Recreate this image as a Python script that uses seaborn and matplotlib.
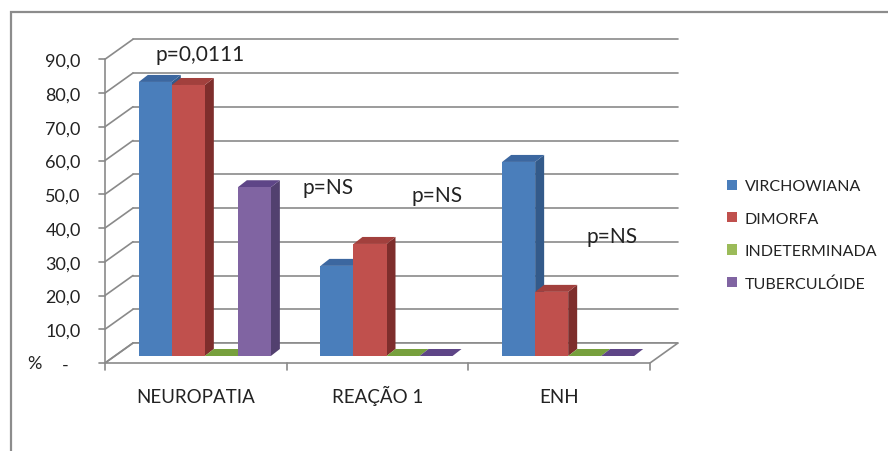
import numpy as np
import pandas as pd
import seaborn as sns
import matplotlib
matplotlib.use("Agg")
import matplotlib.pyplot as plt
from matplotlib.patches import Polygon, Rectangle
from matplotlib.lines import Line2D
from matplotlib.transforms import offset_copy, ScaledTranslation, IdentityTransform

# ---- data -------------------------------------------------------------
categorias = ["NEUROPATIA", "REAÇÃO 1", "ENH"]
formas = ["VIRCHOWIANA", "DIMORFA", "INDETERMINADA", "TUBERCULÓIDE"]
virchowiana = [81.2, 26.7, 57.5]
dimorfa = [80.3, 33.2, 19.0]
indeterminada = [0.0, 0.0, 0.0]
tuberculoide = [50.0, 0.0, 0.0]
p_textos = ["p=0,0111", "p=NS", "p=NS", "p=NS"]
y_ticks = [0, 10, 20, 30, 40, 50, 60, 70, 80, 90]

df = pd.DataFrame({
    "categoria": np.repeat(categorias, len(formas)),
    "forma": formas * len(categorias),
    "pct": [v for trio in zip(virchowiana, dimorfa, indeterminada, tuberculoide) for v in trio],
})

# ---- style ------------------------------------------------------------
sns.set_style("white")
plt.rcParams["font.family"] = ["Lato", "DejaVu Sans"]
TXT = "#222222"
GRID = "#8a8a8a"

cor_frente = ["#4A7EBB", "#C0504D", "#9BBB59", "#8064A2"]
cor_topo = ["#3C67A0", "#A2403D", "#77A03D", "#5E4587"]
cor_lado = ["#335A8A", "#7E2E2C", "#5F7F30", "#52406F"]

W, H, DPI = 888, 452, 100
fig = plt.figure(figsize=(W / DPI, H / DPI), dpi=DPI)
ax = fig.add_axes([114 / W, 1 - 357 / H, 545 / W, 303.75 / H])

sns.barplot(data=df, x="categoria", y="pct", hue="forma", order=categorias,
            hue_order=formas, palette=cor_frente, saturation=1, width=0.727,
            linewidth=0, ax=ax)
barras = sorted(list(ax.patches), key=lambda p: p.get_x())
ax.set_xlim(-0.5, 2.5)
ax.set_ylim(0, 90)
ax.patch.set_visible(False)
for s in ax.spines.values():
    s.set_visible(False)
ax.set_xlabel("")
ax.set_ylabel("")

# depth offsets (pixels) of the front edge and the back wall
frente = offset_copy(ax.transData, fig=fig, x=-9, y=-7, units="dots")
fundo = offset_copy(ax.transData, fig=fig, x=19, y=13, units="dots")
BX, BY = 9, 7  # bar depth

def disp(tr, x, y):
    return tr.transform((x, y))

# back wall grid lines and side wall diagonals
for v in y_ticks:
    ax.plot([-0.5, 2.5], [v, v], transform=fundo, color=GRID, lw=1.2,
            clip_on=False, zorder=0.2)
    p0 = disp(frente, -0.5, v)
    p1 = disp(fundo, -0.5, v)
    fig.add_artist(Line2D([p0[0], p1[0]], [p0[1], p1[1]], transform=IdentityTransform(),
                          color=GRID, lw=1.2, zorder=0.2))

# floor
piso = [disp(frente, -0.5, 0), disp(frente, 2.5, 0), disp(fundo, 2.5, 0), disp(fundo, -0.5, 0)]
ax.add_patch(Polygon(piso, closed=True, facecolor="white", edgecolor=GRID, lw=1.2,
                     transform=IdentityTransform(), clip_on=False, zorder=0.5))

# front value axis and its ticks
ax.plot([-0.5, -0.5], [0, 90], transform=frente, color=GRID, lw=1.2, clip_on=False, zorder=0.6)
for v in y_ticks:
    x0, y0 = disp(frente, -0.5, v)
    fig.add_artist(Line2D([x0 - 6, x0], [y0, y0], transform=IdentityTransform(),
                          color=GRID, lw=1.2))
for c in [-0.5, 0.5, 1.5, 2.5]:
    x0, y0 = disp(frente, c, 0)
    fig.add_artist(Line2D([x0, x0], [y0, y0 - 7], transform=IdentityTransform(),
                          color=GRID, lw=1.2))

# 3D faces of the bars
for k, p in enumerate(barras):
    i = k % len(formas)
    x0, y0 = ax.transData.transform((p.get_x(), 0))
    x1, y1 = ax.transData.transform((p.get_x() + p.get_width(), p.get_height()))
    base_z = 2 + 2 * k
    p.set_zorder(base_z + 1)
    p.set_facecolor(cor_frente[i])
    if p.get_height() > 0:
        lado = [(x1, y0), (x1 + BX, y0 + BY), (x1 + BX, y1 + BY), (x1, y1)]
        ax.add_patch(Polygon(lado, closed=True, facecolor=cor_lado[i], lw=0,
                             transform=IdentityTransform(), clip_on=False, zorder=base_z))
    topo = [(x0, y1), (x1, y1), (x1 + BX, y1 + BY), (x0 + BX, y1 + BY)]
    ax.add_patch(Polygon(topo, closed=True, facecolor=cor_topo[i], lw=0,
                         transform=IdentityTransform(), clip_on=False, zorder=base_z))

# tick labels
rotulos_y = ["-"] + [f"{v:.1f}".replace(".", ",") for v in y_ticks[1:]]
ax.set_yticks(y_ticks, rotulos_y)
ax.set_xticks(range(len(categorias)), categorias)
ax.tick_params(axis="y", length=0, pad=24, labelsize=13, labelcolor=TXT)
ax.tick_params(axis="x", length=0, pad=33, labelsize=13.5, labelcolor=TXT)
for lbl in ax.get_yticklabels():
    dx = -12 / DPI if lbl.get_text() == "-" else 0
    lbl.set_transform(lbl.get_transform() + ScaledTranslation(dx, -7 / DPI, fig.dpi_scale_trans))
for lbl in ax.get_xticklabels():
    lbl.set_verticalalignment("baseline")
    lbl.set_transform(lbl.get_transform() + ScaledTranslation(-9 / DPI, 0, fig.dpi_scale_trans))
fig.text(27 / W, 1 - 364 / H, "%", fontsize=13, color=TXT, va="center", ha="left")

# significance notes
p_pos = [(-0.027, 89.5), (0.678, 50.1), (1.278, 47.7), (2.241, 35.6)]
for txt, (px, py) in zip(p_textos, p_pos):
    ax.text(px, py, txt, ha="center", va="center", fontsize=15, color=TXT,
            clip_on=False, zorder=50)

# legend
sns.move_legend(ax, "upper left", bbox_to_anchor=(713 / W, 1 - 166 / H),
                bbox_transform=fig.transFigure, frameon=False, title=None,
                fontsize=11.5, handlelength=0.6, handleheight=0.6,
                handletextpad=0.5, labelspacing=1.15)
for t in ax.get_legend().get_texts():
    t.set_color(TXT)

# outer frame
fig.add_artist(Rectangle((11 / W, -0.2), 2, 1.2 - 13 / H, transform=fig.transFigure,
                         fill=False, edgecolor="#8c8c8c", lw=1.6))

fig.savefig("out.png", dpi=DPI)
